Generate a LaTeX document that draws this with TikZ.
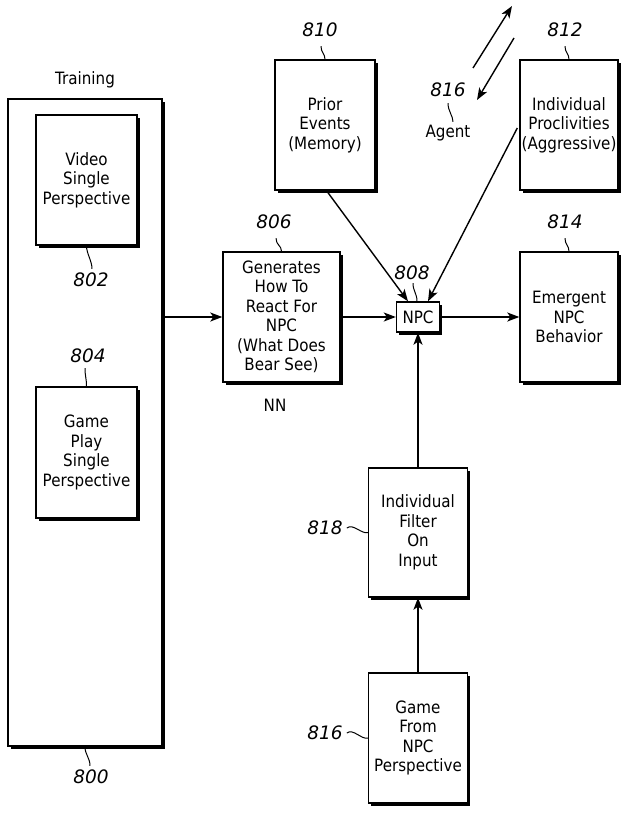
\documentclass[tikz,border=0pt]{standalone}
\usepackage{fontspec}
\setmainfont{DejaVu Sans}
\newfontfamily\boxfont[FakeStretch=0.89]{DejaVu Sans}
\usetikzlibrary{arrows.meta,shadows,calc}
\begin{document}
\begin{tikzpicture}[x=1pt,y=-1pt,
 box/.style={draw, line width=1.4pt, fill=white, align=center, inner sep=0pt,
   font=\boxfont\fontsize{17}{19.5}\selectfont,
   general shadow={fill=black, shadow xshift=2.5pt, shadow yshift=-2.5pt}},
 num/.style={font=\fontsize{18.5}{20}\selectfont\itshape, inner sep=0pt},
 txt/.style={font=\boxfont\fontsize{17}{19.5}\selectfont, inner sep=0pt},
 conn/.style={line width=1.4pt, -{Stealth[length=12pt,width=9pt,inset=3pt]}},
 lead/.style={line width=1pt}]
\useasboundingbox (0,0) rectangle (628,814);

% boxes
\node[box, minimum width=154pt, minimum height=647pt] (train) at (85,422.5) {};
\node[box, minimum width=101pt, minimum height=130pt] (video) at (86.5,180) {Video\\Single\\Perspective};
\node[box, minimum width=101pt, minimum height=131pt] (gplay) at (86.5,452.5) {Game\\Play\\Single\\Perspective};
\node[box, minimum width=117pt, minimum height=130pt] (nn) at (281.5,317) {Generates\\How To\\React For\\NPC\\(What Does\\Bear See)};
\node[box, minimum width=43pt, minimum height=30pt] (npc) at (418,317) {NPC};
\node[box, minimum width=100pt, minimum height=130pt] (prior) at (325,125) {Prior\\Events\\(Memory)};
\node[box, minimum width=98pt, minimum height=130pt] (proc) at (569,125) {Individual\\Proclivities\\(Aggressive)};
\node[box, minimum width=98pt, minimum height=130pt] (emerg) at (569,317) {Emergent\\NPC\\Behavior};
\node[box, minimum width=99pt, minimum height=129pt] (filter) at (418,532.5) {Individual\\Filter\\On\\Input};
\node[box, minimum width=99pt, minimum height=130pt] (game) at (418,738) {Game\\From\\NPC\\Perspective};

% texts
\node[txt] (ttrain) at (85,80) {Training};
\node[txt] (tnn) at (275,405) {NN};
\node[txt] (tagent) at (448,133) {Agent};

% reference numbers
\node[num] (n802) at (91,280) {802};
\node[num] (n804) at (88,356) {804};
\node[num] (n800) at (91,777) {800};
\node[num] (n806) at (274,222) {806};
\node[num] (n808) at (412,273) {808};
\node[num] (n810) at (320,30) {810};
\node[num] (n812) at (565,30) {812};
\node[num] (n814) at (565,222) {814};
\node[num] (n816a) at (448,90) {816};
\node[num] (n818) at (325,528) {818};
\node[num] (n816b) at (325,733) {816};

% leader squiggles
\draw[lead] ($(n810.south)+(1,9)$) .. controls +(0,7) and +(0,-6) .. (prior.north);
\draw[lead] ($(n812.south)+(0,9)$) .. controls +(0,7) and +(0,-6) .. (proc.north);
\draw[lead] ($(n806.south)+(2,9)$) .. controls +(0,7) and +(0,-6) .. (nn.north);
\draw[lead] ($(n814.south)+(0,9)$) .. controls +(0,7) and +(0,-6) .. (emerg.north);
\draw[lead] ($(n808.south)+(1,3)$) .. controls +(0,8) and +(0,-8) .. ($(npc.north)+(-1,0)$);
\draw[lead] ($(n816a.south)+(0,6)$) .. controls +(0,8) and +(0,-6) .. ($(tagent.north)+(5,-3)$);
\draw[lead] (video.south) .. controls +(0,8) and +(0,-8) .. ($(n802.north)+(1,-4)$);
\draw[lead] ($(n804.south)+(-3,5)$) .. controls +(0,8) and +(0,-8) .. (gplay.north);
\draw[lead] (train.south) .. controls +(0,8) and +(0,-8) .. ($(n800.north)+(-1,-4)$);
\draw[lead] ($(n818.east)+(4,0)$) .. controls +(6,-5) and +(-6,2) .. (filter.west);
\draw[lead] ($(n816b.east)+(4,0)$) .. controls +(6,-5) and +(-6,2) .. (game.west);

% connectors
\draw[conn] (nn.west -| train.east) -- (nn.west);
\draw[conn] (nn.east) -- (npc.west);
\draw[conn] (npc.east) -- (emerg.west);
\draw[conn] ($(prior.south)+(3,2)$) -- ($(npc.north)+(-10,0)$);
\draw[conn] ($(proc.west)+(-2,3)$) -- ($(npc.north)+(10,0)$);
\draw[conn] (filter.north) -- (npc.south);
\draw[conn] (game.north) -- (filter.south);

% agent arrows
\coordinate (a1s) at (473,68);
\coordinate (a1e) at (512,6);
\coordinate (a2s) at (514,38);
\coordinate (a2e) at (477,100);
\draw[conn] (a1s) -- (a1e);
\draw[conn] (a2s) -- (a2e);
\end{tikzpicture}
\end{document}
